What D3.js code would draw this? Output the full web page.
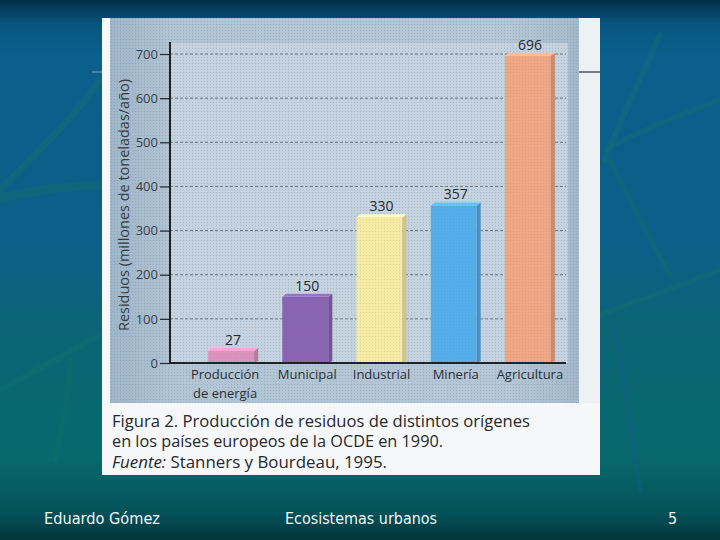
<!DOCTYPE html>
<html>
<head>
<meta charset="utf-8">
<script src="https://cdn.jsdelivr.net/npm/d3@7"></script>
<style>
  html, body { margin: 0; padding: 0; background: #0a5a80; }
  svg { display: block; }
</style>
</head>
<body>
<svg id="chart" width="720" height="540"></svg>
<script>
// ---- data ----
const categories = ["Producción\nde energía", "Municipal", "Industrial", "Minería", "Agricultura"];
const values = [27, 150, 330, 357, 696];
const barColors = ["#dc93bb", "#8b63b3", "#f6eba3", "#55aeea", "#f1a686"];
const yTicks = [0, 100, 200, 300, 400, 500, 600, 700];
const yTitle = "Residuos (millones de toneladas/año)";
const captionLines = [
  "Figura 2. Producción de residuos de distintos orígenes",
  "en los países europeos de la OCDE en 1990.",
  "Stanners y Bourdeau, 1995."
];
const footer = { author: "Eduardo Gómez", title: "Ecosistemas urbanos", page: "5" };

const svg = d3.select("#chart");
const defs = svg.append("defs");

// slide background gradient
const bg = defs.append("linearGradient").attr("id", "bg").attr("x1", 0).attr("y1", 0).attr("x2", 0).attr("y2", 1);
[[0, "#032f48"], [0.045, "#08557f"], [0.1, "#0a5f8c"], [0.45, "#0a6088"], [0.62, "#0a6574"], [0.85, "#08686c"], [0.95, "#04525a"], [1, "#023638"]]
  .forEach(([o, c]) => bg.append("stop").attr("offset", o).attr("stop-color", c));

// dotted scan texture
const pat = defs.append("pattern").attr("id", "dots").attr("width", 3).attr("height", 3).attr("patternUnits", "userSpaceOnUse");
pat.append("rect").attr("width", 1).attr("height", 1).attr("fill", "#5d6f80").attr("opacity", 0.25);

const outerG = defs.append("linearGradient").attr("id", "outer").attr("x1", 0).attr("y1", 0).attr("x2", 1).attr("y2", 0);
[[0, "#9fb6c9"], [0.15, "#b2c5d4"], [0.85, "#b5c7d6"], [1, "#a3b9cb"]]
  .forEach(([o, c]) => outerG.append("stop").attr("offset", o).attr("stop-color", c));

svg.append("rect").attr("width", 720).attr("height", 540).attr("fill", "url(#bg)");

// decorative leaves
const leaves = svg.append("g").attr("fill", "none").attr("stroke-linecap", "round");
const leafPaths = [
  ["M0,190 C40,150 80,110 100,80", "#14706e", 7],
  ["M0,198 C35,190 70,186 100,185", "#137068", 9],
  ["M0,390 C40,370 70,350 100,335", "#127372", 6],
  ["M70,360 C70,400 60,430 55,460", "#11706c", 5],
  ["M660,35 C640,80 620,120 605,160", "#137070", 6],
  ["M605,150 C640,130 680,115 720,100", "#13706c", 5],
  ["M610,160 C630,200 650,240 670,275", "#126e6a", 5],
  ["M600,315 C640,300 680,285 720,270", "#14716d", 5],
  ["M615,330 C625,380 630,430 640,490", "#0e5f86", 5]
];
leaves.selectAll("path").data(leafPaths).join("path")
  .attr("d", d => d[0]).attr("stroke", d => d[1]).attr("stroke-width", d => d[2]).attr("opacity", 0.4);

// page panel
svg.append("rect").attr("x", 102).attr("y", 18).attr("width", 498).attr("height", 457).attr("fill", "#f6f7f8");
svg.append("rect").attr("x", 579).attr("y", 18).attr("width", 21).attr("height", 385).attr("fill", "#eef1f4");
svg.append("line").attr("x1", 579).attr("x2", 600).attr("y1", 72).attr("y2", 72).attr("stroke", "#4d5560").attr("stroke-width", 1.5);
svg.append("line").attr("x1", 92).attr("x2", 102).attr("y1", 72).attr("y2", 72).attr("stroke", "#8aa7b8").attr("stroke-width", 1);

// chart area
svg.append("rect").attr("x", 110).attr("y", 18).attr("width", 469).attr("height", 385).attr("fill", "url(#outer)");
svg.append("rect").attr("x", 170).attr("y", 43).attr("width", 398).attr("height", 320).attr("fill", "#c4d3df");
svg.append("rect").attr("x", 110).attr("y", 18).attr("width", 469).attr("height", 385).attr("fill", "url(#dots)");

// scales
const y = d3.scaleLinear().domain([0, 700]).range([363, 54]);
const x = d3.scaleBand().domain(categories).range([196, 567]).paddingInner(0.3266).paddingOuter(0.1633);

// gridlines
svg.append("g").selectAll("line").data(yTicks.filter(d => d > 0)).join("line")
  .attr("x1", 170).attr("x2", 566)
  .attr("y1", d => y(d)).attr("y2", d => y(d))
  .attr("stroke", "#6a7580").attr("stroke-width", 1).attr("stroke-dasharray", "3,2");

// y axis
const yAxis = d3.axisLeft(y).tickValues(yTicks).tickSize(10).tickPadding(2).tickFormat(d3.format("d"));
const ya = svg.append("g").attr("transform", "translate(170,0)").call(yAxis);
ya.select(".domain").remove();
ya.selectAll(".tick line").attr("stroke", "#2a2f35").attr("stroke-width", 1.3);
ya.selectAll(".tick text").attr("font-family", "'Open Sans', sans-serif").attr("font-size", 13).attr("fill", "#3a3f45");
svg.append("line").attr("x1", 170).attr("x2", 170).attr("y1", 42).attr("y2", 364).attr("stroke", "#1f2328").attr("stroke-width", 2);

// y title
svg.append("text")
  .attr("transform", "translate(129,205) rotate(-90)")
  .attr("text-anchor", "middle")
  .attr("font-family", "'Open Sans', sans-serif").attr("font-size", 15).attr("fill", "#333a40")
  .attr("textLength", 252).attr("lengthAdjust", "spacingAndGlyphs")
  .text(yTitle);

// bars (simple 3D look)
const bw = x.bandwidth();
const depth = 4;
const bars = svg.append("g").selectAll("g").data(categories.map((c, i) => ({ c, v: values[i], col: barColors[i] }))).join("g");
bars.append("rect")
  .attr("x", d => x(d.c)).attr("y", d => y(d.v))
  .attr("width", bw - depth).attr("height", d => y(0) - y(d.v))
  .attr("fill", d => d.col);
bars.append("path")
  .attr("d", d => {
    const x0 = x(d.c) + bw - depth, yt = y(d.v);
    return `M${x0},${yt} L${x0 + depth},${yt - 3} L${x0 + depth},${y(0) - 2} L${x0},${y(0)} Z`;
  })
  .attr("fill", d => d3.color(d.col).darker(0.5));
bars.append("path")
  .attr("d", d => {
    const x0 = x(d.c), yt = y(d.v);
    return `M${x0},${yt} L${x0 + depth},${yt - 3} L${x0 + bw},${yt - 3} L${x0 + bw - depth},${yt} Z`;
  })
  .attr("fill", d => d3.color(d.col).brighter(0.35));
bars.append("rect")
  .attr("x", d => x(d.c)).attr("y", d => y(d.v))
  .attr("width", bw - depth).attr("height", d => y(0) - y(d.v))
  .attr("fill", "url(#dots)").attr("opacity", 0.6);

// value labels
bars.append("text")
  .attr("x", d => x(d.c) + bw / 2).attr("y", d => y(d.v) - 6)
  .attr("text-anchor", "middle")
  .attr("font-family", "'Open Sans', sans-serif").attr("font-size", 14).attr("fill", "#25292e")
  .text(d => d.v);

// x axis line
svg.append("line").attr("x1", 169).attr("x2", 566).attr("y1", 363).attr("y2", 363).attr("stroke", "#1f2328").attr("stroke-width", 2);

// x labels
const xl = svg.append("g").selectAll("text").data(categories).join("text")
  .attr("x", d => x(d) + bw / 2 - (d.includes("\n") ? 8 : 0))
  .attr("y", 379)
  .attr("text-anchor", "middle")
  .attr("font-family", "'Open Sans', sans-serif").attr("font-size", 13).attr("fill", "#2a2f35");
xl.selectAll("tspan").data(d => d.split("\n")).join("tspan")
  .attr("x", function () { return d3.select(this.parentNode).attr("x"); })
  .attr("dy", (d, i) => i === 0 ? 0 : 19)
  .text(d => d);

// caption
const cap = svg.append("g").attr("font-family", "'Open Sans', sans-serif").attr("font-size", 16).attr("fill", "#25292e");
cap.append("text").attr("x", 112).attr("y", 427).attr("textLength", 418).attr("lengthAdjust", "spacingAndGlyphs").text(captionLines[0]);
cap.append("text").attr("x", 112).attr("y", 447).attr("textLength", 331).attr("lengthAdjust", "spacingAndGlyphs").text(captionLines[1]);
const l3 = cap.append("text").attr("x", 112).attr("y", 468).attr("textLength", 275).attr("lengthAdjust", "spacingAndGlyphs");
l3.append("tspan").attr("font-style", "italic").text("Fuente:");
l3.append("tspan").text(" " + captionLines[2]);

// footer
const ft = svg.append("g").attr("font-family", "'Liberation Sans Narrow', 'DejaVu Sans Condensed', sans-serif").attr("font-size", 16).attr("fill", "#f2f4f4");
ft.append("text").attr("x", 44).attr("y", 524).attr("textLength", 116).attr("lengthAdjust", "spacingAndGlyphs").text(footer.author);
ft.append("text").attr("x", 285).attr("y", 524).attr("textLength", 152).attr("lengthAdjust", "spacingAndGlyphs").text(footer.title);
ft.append("text").attr("x", 668).attr("y", 524).text(footer.page);
</script>
</body>
</html>
